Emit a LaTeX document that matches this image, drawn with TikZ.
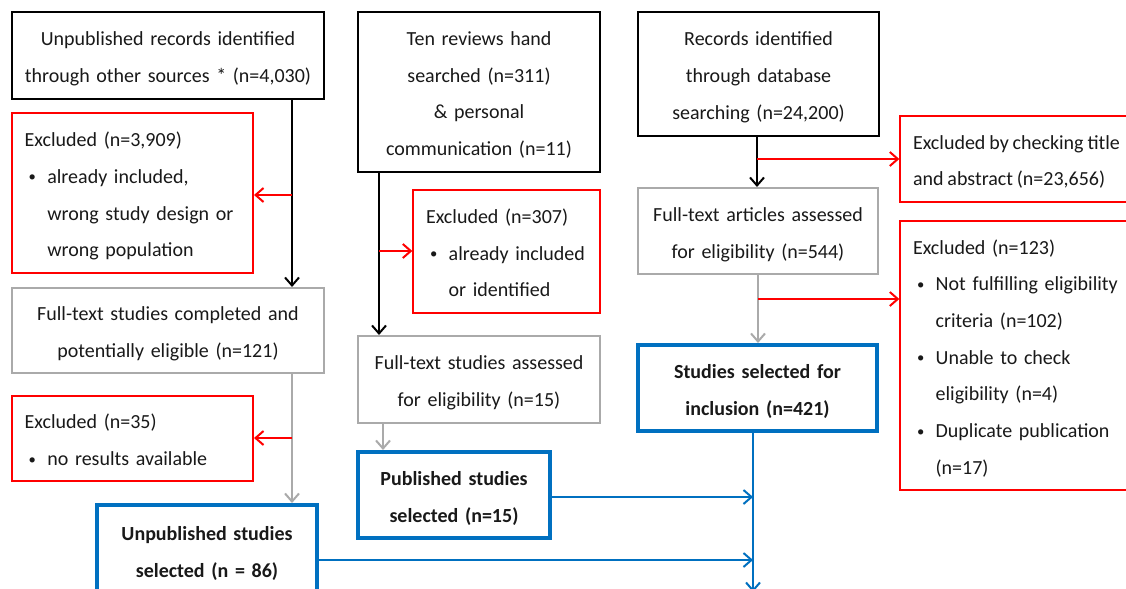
\documentclass[tikz,border=0pt]{standalone}
\usepackage{fontspec}
\setmainfont{Carlito}
\usetikzlibrary{arrows.meta,positioning,calc}

\definecolor{exred}{RGB}{255,0,0}
\definecolor{boxgray}{RGB}{170,170,170}
\definecolor{selblue}{RGB}{0,112,192}

\newcommand{\itm}{\hspace*{3pt}\makebox[14pt][l]{\raisebox{1pt}{\fontsize{11}{11}\selectfont\textbullet}}}
\newcommand{\ind}{\hspace*{17pt}}

\begin{document}
\begin{tikzpicture}[
  x=0.75pt, y=-0.75pt,
  every node/.style={font=\fontsize{15}{27.5}\selectfont, text=black!90,
    execute at begin node=\rule{0pt}{17pt}, execute at end node=\rule[-4pt]{0pt}{0pt}},
  box/.style={draw, line width=1.5pt, align=center, inner sep=0pt},
  srcbox/.style={box, draw=black},
  fullbox/.style={box, draw=boxgray},
  exbox/.style={box, draw=exred, align=left, inner xsep=9.5pt},
  selbox/.style={box, draw=selblue, line width=3pt, font=\fontsize{15}{27.5}\selectfont\bfseries},
  arrow/.style={-{Straight Barb[length=6pt,width=10.5pt]}, line width=1.5pt},
  exarrow/.style={arrow, draw=exred},
  grayarrow/.style={arrow, draw=boxgray},
  selarrow/.style={arrow, draw=selblue}
]
  \fill[white] (0,0) rectangle (1126,588);
  \useasboundingbox (0,0) rectangle (1126,588);

  % Unpublished records
  \node[srcbox, text width=234pt, minimum height=65.25pt] (unpub) at (168,55.5) {Unpublished records identified\\through other sources * (n=4,030)};
  \node[exbox, text width=161.75pt, minimum height=120pt] (exunpub) at (132.5,193) {Excluded (n=3,909)\\\itm already included,\\\ind wrong study design or\\\ind wrong population};
  \node[fullbox, text width=234pt, minimum height=63.75pt] (fullunpub) at (168,330.5) {Full-text studies completed and\\potentially eligible (n=121)};
  \node[exbox, text width=161.75pt, minimum height=63.75pt] (exresults) at (132.5,438.5) {Excluded (n=35)\\\itm no results available};
  \node[selbox, text width=165pt, minimum height=67.5pt] (selunpub) at (207,550) {Unpublished studies\\selected (n = 86)};

  % Hand searched reviews
  \node[srcbox, text width=181.5pt, minimum height=120pt] (reviews) at (479,92) {Ten reviews hand\\searched (n=311)\\\& personal\\communication (n=11)};
  \node[exbox, text width=120.75pt, minimum height=92.25pt] (exreviews) at (506.5,251.5) {Excluded (n=307)\\\itm already included\\\ind or identified};
  \node[fullbox, text width=181.5pt, minimum height=65.25pt] (fullrev) at (479,379.5) {Full-text studies assessed\\for eligibility (n=15)};
  \node[selbox, text width=144pt, minimum height=64.5pt] (selpub) at (454,495) {Published studies\\selected (n=15)};

  % Database searching
  \node[srcbox, text width=180.75pt, minimum height=93pt] (records) at (758.5,74) {Records identified\\through database\\searching (n=24,200)};
  \node[exbox, text width=175.5pt, minimum height=64.5pt] (extitle) at (1030,159) {\spaceskip=2.9pt Excluded by checking title\\and abstract (n=23,656)};
  \node[fullbox, text width=180pt, minimum height=64.5pt] (fullart) at (758,231) {Full-text articles assessed\\for eligibility (n=544)};
  \node[exbox, text width=175.5pt, minimum height=201.75pt] (exart) at (1030,355.5) {Excluded (n=123)\\\itm Not fulfilling eligibility\\\ind criteria (n=102)\\\itm Unable to check\\\ind eligibility (n=4)\\\itm Duplicate publication\\\ind (n=17)};
  \node[selbox, text width=179.25pt, minimum height=64.5pt] (selincl) at (757.5,388) {Studies selected for\\inclusion (n=421)};

  % branch points
  \coordinate (b1) at (292,195);
  \coordinate (b2) at (292,438);
  \coordinate (b3) at (379,251);
  \coordinate (b4) at (383,437);
  \coordinate (b5) at (757,159);
  \coordinate (b6) at (758,299);
  \coordinate (m1) at (753,497);
  \coordinate (m2) at (753,560);
  \coordinate (final) at (753,592);

  \draw[arrow] (unpub.south -| b1) -- (fullunpub.north -| b1);
  \draw[exarrow] (b1) -- (b1 -| exunpub.east);
  \draw[grayarrow] (fullunpub.south -| b2) -- (selunpub.north -| b2);
  \draw[exarrow] (b2) -- (b2 -| exresults.east);

  \draw[arrow] (reviews.south -| b3) -- (fullrev.north -| b3);
  \draw[exarrow] (b3) -- (b3 -| exreviews.west);
  \draw[grayarrow] (fullrev.south -| b4) -- (selpub.north -| b4);

  \draw[arrow] (records.south -| b5) -- (fullart.north -| b5);
  \draw[exarrow] (b5) -- (b5 -| extitle.west);
  \draw[grayarrow] (fullart.south -| b6) -- (selincl.north -| b6);
  \draw[exarrow] (b6) -- (b6 -| exart.west);

  % merge into final selection
  \draw[selarrow] (selincl.south -| m1) -- (final);
  \draw[selarrow] (m1 -| selpub.east) -- (m1);
  \draw[selarrow] (m2 -| selunpub.east) -- (m2);
\end{tikzpicture}
\end{document}
